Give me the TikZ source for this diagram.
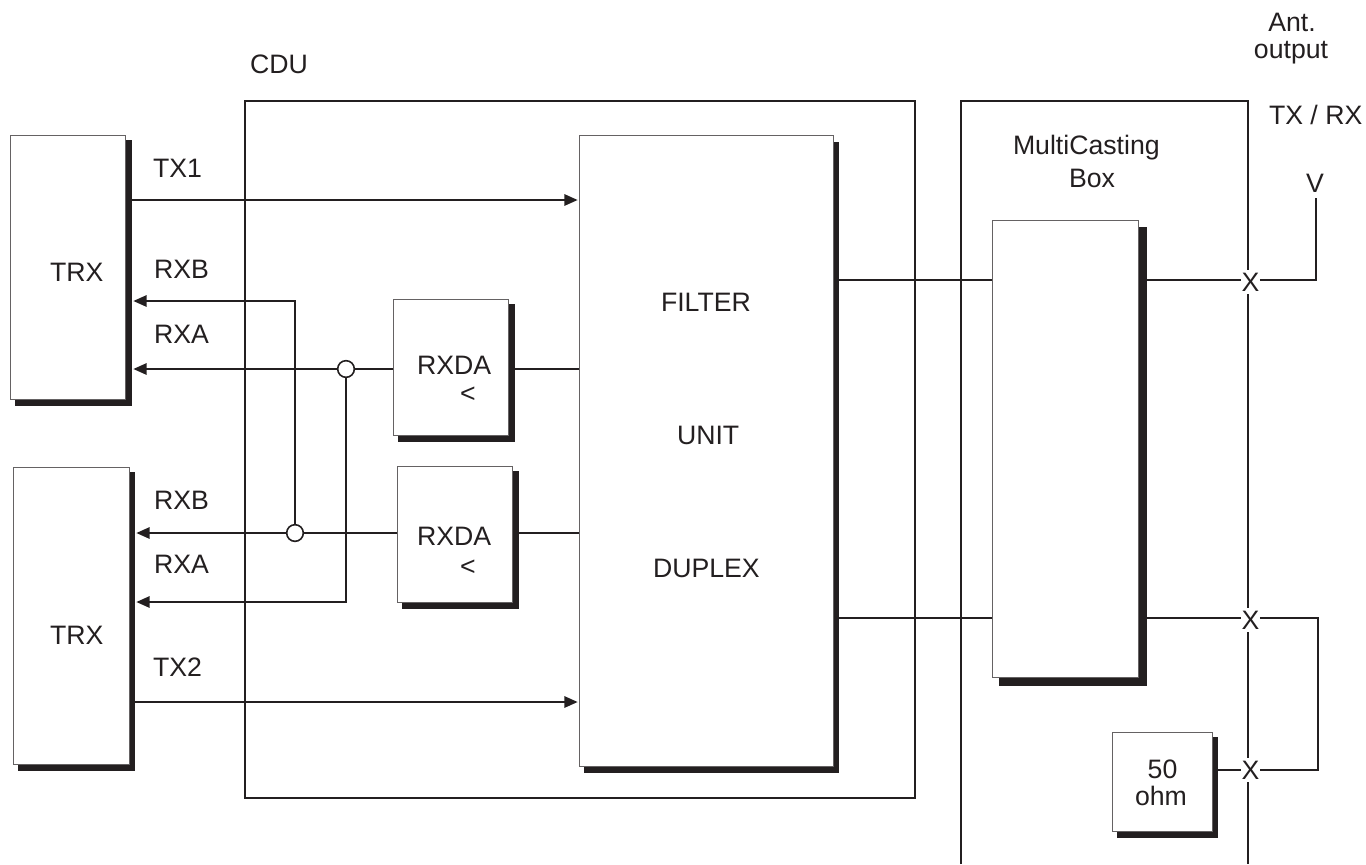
\documentclass[tikz,border=0pt]{standalone}
\usepackage{fontspec}
\setmainfont{Liberation Sans}
\usetikzlibrary{arrows.meta}
\definecolor{ink}{HTML}{231F20}
\tikzset{
  x=0.75pt,y=-0.75pt,
  frameline/.style={draw=ink,line width=0.8pt,fill=none},
  boxface/.style={draw=ink!70,line width=0.7pt,fill=white,inner sep=0pt,outer sep=0pt},
  boxshade/.style={fill=ink,draw=none,inner sep=0pt,outer sep=0pt},
  sig/.style={draw=ink,line width=1.5pt},
  sigarrow/.style={sig,-{Triangle[length=10pt,width=8.5pt]},shorten >=1pt},
  joint/.style={circle,draw=ink,line width=1.2pt,fill=white,minimum size=12.5pt,inner sep=0pt,outer sep=0pt},
  lab/.style={inner sep=0pt,outer sep=0pt,anchor=base west,font=\fontsize{20pt}{24pt}\selectfont,text=ink},
  labc/.style={lab,anchor=base},
  cross/.style={inner sep=0pt,outer sep=0pt,fill=white,minimum width=14pt,minimum height=17.5pt,font=\fontsize{20pt}{24pt}\selectfont,text=ink},
}
% name, face x1 y1 x2 y2, shadow x1 y1 x2 y2
\newcommand{\shadowbox}[9]{%
  \pgfmathsetmacro{\bw}{(#4-#2)*0.75}\pgfmathsetmacro{\bh}{(#5-#3)*0.75}%
  \pgfmathsetmacro{\sw}{(#8-#6)*0.75}\pgfmathsetmacro{\sh}{(#9-#7)*0.75}%
  \node[boxshade,minimum width=\sw pt,minimum height=\sh pt] (#1s) at ({(#6+#8)/2},{(#7+#9)/2}) {};
  \node[boxface,minimum width=\bw pt,minimum height=\bh pt] (#1) at ({(#2+#4)/2},{(#3+#5)/2}) {};
}
\begin{document}
\begin{tikzpicture}
\useasboundingbox (0,0) rectangle (1366,864);
\fill[white] (0,0) rectangle (1366,864);
% outer frames
\node[frameline,minimum width=502.5pt,minimum height=522.75pt,inner sep=0pt,outer sep=0pt] (cdu) at (580,449.5) {};
\coordinate (mcbl) at (961,864);
\coordinate (mcbr) at (1248,864);
\coordinate (mctl) at (961,101);
\coordinate (mctr) at (1248,101);
\draw[frameline] (mcbl) -- (mctl) -- (mctr) -- (mcbr);
% junction and route coordinates
\coordinate (y1) at (0,200);
\coordinate (y2) at (0,301);
\coordinate (y3) at (0,369);
\coordinate (y4) at (0,533);
\coordinate (y5) at (0,602);
\coordinate (y6) at (0,702);
\coordinate (y7) at (0,280);
\coordinate (y8) at (0,618);
\coordinate (y9) at (0,770);
\coordinate (vtop) at (1316,198);
\coordinate (vbow) at (1316,280);
\coordinate (rtop) at (1318,618);
\coordinate (rbot) at (1318,770);
% boxes
\shadowbox{trxa}{10.3}{135.3}{125.5}{399.3}{15}{140}{132}{406}
\shadowbox{trxb}{13}{467}{129.4}{764.3}{17.6}{471.7}{135}{771}
\shadowbox{da}{393}{299.3}{508.6}{435}{398}{303.7}{514.7}{441.7}
\shadowbox{db}{397}{466}{512.8}{602.3}{402}{470.7}{519}{609}
\shadowbox{filt}{579}{135}{833}{766}{584}{142}{839}{773}
\shadowbox{mc}{992}{220}{1138}{677.7}{999.3}{227.3}{1146.7}{686.3}
\shadowbox{term}{1112.7}{732}{1212.3}{831.3}{1117}{736.7}{1218.3}{837.7}
% joints
\node[joint] (ja) at (346,369) {};
\node[joint] (jb) at (295,533) {};
% connectors
\draw[sigarrow] (trxas.east |- y1) -- (filt.west |- y1);
\draw[sigarrow] (trxbs.east |- y6) -- (filt.west |- y6);
\draw[sigarrow] (jb.north) -- (jb.north |- y2) -- (trxas.east |- y2);
\draw[sigarrow] (ja.west) -- (trxas.east |- y3);
\draw[sigarrow] (ja.south) -- (ja.south |- y5) -- (trxbs.east |- y5);
\draw[sigarrow] (jb.west) -- (trxbs.east |- y4);
\draw[sig] (da.west |- ja) -- (ja.east);
\draw[sig] (db.west |- jb) -- (jb.east);
\draw[sig] (das.east |- y3) -- (filt.west |- y3);
\draw[sig] (dbs.east |- y4) -- (filt.west |- y4);
\draw[sig] (filts.east |- y7) -- (mc.west |- y7);
\draw[sig] (filts.east |- y8) -- (mc.west |- y8);
% X markers
\node[cross] (xa) at (1250.5,282) {X};
\node[cross] (xb) at (1250.5,620) {X};
\node[cross] (xc) at (1250.5,770) {X};
\draw[sig] (mcs.east |- y7) -- (xa.west |- y7);
\draw[sig] (mcs.east |- y8) -- (xb.west |- y8);
\draw[sig] (terms.east |- y9) -- (xc.west |- y9);
\draw[sig] (xa.east |- y7) -- (vbow) -- (vtop);
\draw[sig,line join=miter] (xb.east |- y8) -- (rtop) -- (rbot) -- (xc.east |- y9);
% labels
\node[lab] (lcdu) at (250,73) {CDU};
\node[lab] (ltx1) at (153,177) {TX1};
\node[lab] (lrxb1) at (154,278) {RXB};
\node[lab] (lrxa1) at (154,343) {RXA};
\node[lab] (lrxb2) at (154,509.5) {RXB};
\node[lab] (lrxa2) at (154,573.5) {RXA};
\node[lab] (ltx2) at (153,676) {TX2};
\node[lab] (ltrx1) at (50,281) {TRX};
\node[lab] (ltrx2) at (50,644.5) {TRX};
\node[lab] (lda1) at (417,374) {RXDA};
\node[labc] (lda1b) at (468,402) {<};
\node[lab] (lda2) at (417,545.5) {RXDA};
\node[labc] (lda2b) at (468,575) {<};
\node[lab] (lf1) at (661,311) {FILTER};
\node[lab] (lf2) at (677,444.5) {UNIT};
\node[lab] (lf3) at (653,577.5) {DUPLEX};
\node[lab] (lm1) at (1013,154) {MultiCasting};
\node[lab] (lm2) at (1069,187) {Box};
\node[labc] (lant) at (1292,31) {Ant.};
\node[labc] (lout) at (1291,58) {output};
\node[lab] (ltr) at (1269,124) {TX / RX};
\node[labc] (lv) at (1315,192) {V};
\node[labc] (l50) at (1162.5,778) {50};
\node[labc] (lohm) at (1161,805) {ohm};
\end{tikzpicture}
\end{document}
